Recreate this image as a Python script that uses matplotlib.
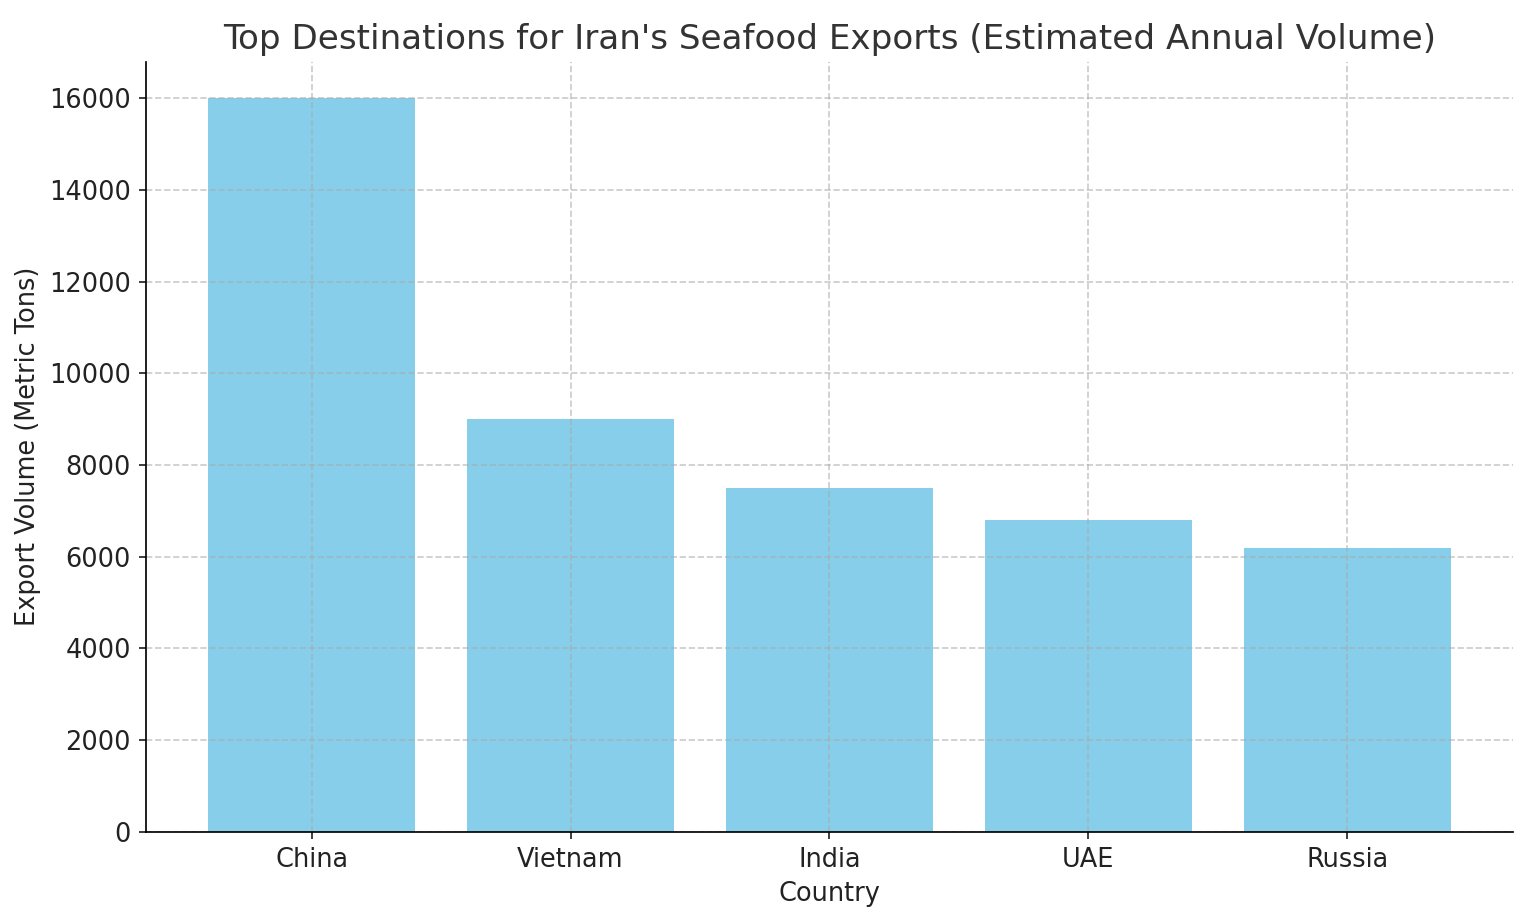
import matplotlib
matplotlib.use("Agg")
import matplotlib.pyplot as plt

countries = ["China", "Vietnam", "India", "UAE", "Russia"]
volumes = [16000, 9000, 7500, 6800, 6200]

fig, ax = plt.subplots(figsize=(10, 6.003), dpi=153.6)
fig.subplots_adjust(left=0.095, right=0.985, top=0.933, bottom=0.098)

ax.bar(countries, volumes, color="skyblue", width=0.8)
ax.set_title("Top Destinations for Iran's Seafood Exports (Estimated Annual Volume)",
             fontsize=16, color="#333333")
ax.set_xlabel("Country", fontsize=12, color="#222222")
ax.set_ylabel("Export Volume (Metric Tons)", fontsize=12, color="#222222")
ax.tick_params(labelsize=12, colors="#222222")
ax.set_ylim(0, 16800)
ax.grid(True, linestyle="--", alpha=0.6, color="#aaaaaa")
ax.spines["top"].set_visible(False)
ax.spines["right"].set_visible(False)

plt.savefig("out.png")
